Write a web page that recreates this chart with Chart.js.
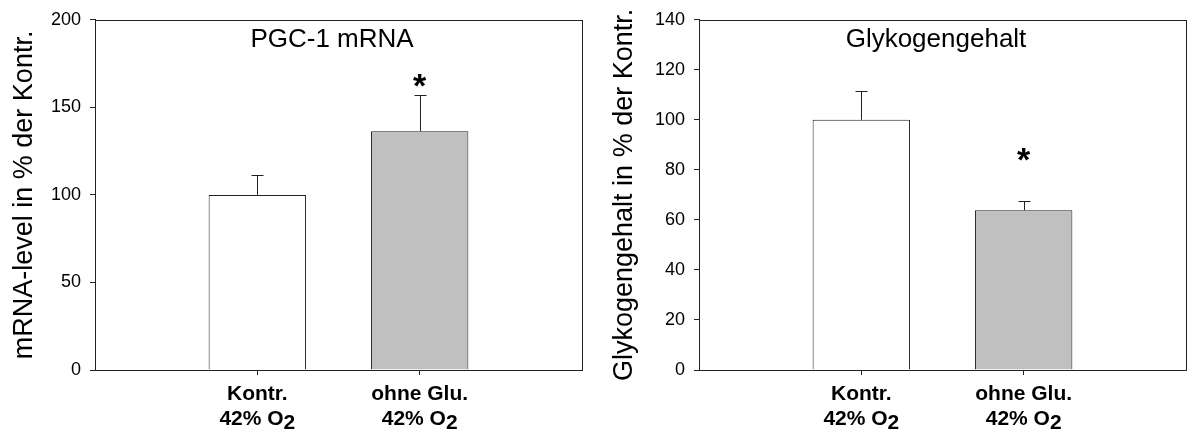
<!DOCTYPE html>
<html>
<head>
<meta charset="utf-8">
<script src="https://cdn.jsdelivr.net/npm/chart.js@4"></script>
<style>
  body { margin: 0; background: #fff; }
  #left { position: absolute; left: 0; top: 0; }
  #right { position: absolute; left: 600px; top: 0; }
</style>
</head>
<body>
<canvas id="left" width="600" height="430"></canvas>
<canvas id="right" width="587" height="430"></canvas>
<script>
// Gruppen
const categories = ["Kontr.", "ohne Glu."];
const o2Text = "42% O";
const o2Sub = "2";

// PGC-1 mRNA (in % der Kontrolle)
const pgcValues = [100, 136.4];
const pgcErrors = [11.1, 20.4];
const pgcStars = [null, 167];
const pgcTicks = [0, 50, 100, 150, 200];

// Glykogengehalt (in % der Kontrolle)
const glyValues = [100, 63.9];
const glyErrors = [11.4, 3.7];
const glyStars = [null, 87];
const glyTicks = [0, 20, 40, 60, 80, 100, 120, 140];

const FONT = "'Liberation Sans', Arial, sans-serif";
const LINE = "#222222";

// Fehlerbalken, Sternchen, Rahmen, Titel und x-Beschriftung
const extrasPlugin = {
  id: "extras",
  afterDatasetsDraw(chart, args, opts) {
    const ctx = chart.ctx;
    const xs = chart.scales.x;
    const ys = chart.scales.y;
    const meta = chart.getDatasetMeta(0);
    const area = chart.chartArea;

    ctx.save();
    ctx.strokeStyle = LINE;
    ctx.lineWidth = 1;
    opts.values.forEach((v, i) => {
      const x = Math.round(meta.data[i].x) + 0.5;
      const y0 = ys.getPixelForValue(v);
      const y1 = Math.round(ys.getPixelForValue(v + opts.errors[i])) + 0.5;
      ctx.beginPath();
      ctx.moveTo(x, y0);
      ctx.lineTo(x, y1);
      ctx.moveTo(x - 6, y1);
      ctx.lineTo(x + 6, y1);
      ctx.stroke();
    });

    // Rahmen um die Zeichenfläche
    ctx.strokeRect(Math.round(area.left) + 0.5, Math.round(area.top) + 0.5,
      Math.round(area.right - area.left), Math.round(area.bottom - area.top));

    // Sternchen
    ctx.fillStyle = "#000";
    ctx.font = "bold 34px " + FONT;
    ctx.textAlign = "center";
    ctx.textBaseline = "alphabetic";
    opts.stars.forEach((s, i) => {
      if (s === null) return;
      ctx.fillText("*", xs.getPixelForValue(i + 1), ys.getPixelForValue(s) + 19);
    });

    // Titel in der Zeichenfläche
    ctx.font = "26px " + FONT;
    ctx.fillText(opts.title, area.left + 237, area.top + 27.5);

    // Kategorien unter der x-Achse
    ctx.font = "bold 21px " + FONT;
    categories.forEach((c, i) => {
      const x = xs.getPixelForValue(i + 1);
      ctx.textAlign = "center";
      ctx.fillText(c, x, area.bottom + 30);
      const w1 = ctx.measureText(o2Text).width;
      const w2 = ctx.measureText(o2Sub).width;
      const start = x - (w1 + w2) / 2;
      ctx.textAlign = "left";
      ctx.fillText(o2Text, start, area.bottom + 55);
      ctx.fillText(o2Sub, start + w1, area.bottom + 59);
    });
    ctx.restore();
  },
};

function makeChart(id, values, errors, stars, ticks, yTitle, title, axisWidth, padRight) {
  return new Chart(document.getElementById(id), {
    type: "bar",
    data: {
      datasets: [
        {
          data: values.map((v, i) => ({ x: i + 1, y: v })),
          backgroundColor: ["#ffffff", "#c0c0c0"],
          borderColor: LINE,
          borderWidth: 1,
          barPercentage: 0.6,
          categoryPercentage: 1,
        },
      ],
    },
    options: {
      responsive: false,
      animation: false,
      layout: { padding: { top: 19, right: padRight, left: 0, bottom: 0 } },
      plugins: {
        legend: { display: false },
        tooltip: { enabled: false },
        extras: { values: values, errors: errors, stars: stars, title: title },
      },
      scales: {
        x: {
          type: "linear",
          min: 0,
          max: 3,
          offset: false,
          afterBuildTicks: (scale) => {
            scale.ticks = [{ value: 1 }, { value: 2 }];
          },
          afterFit: (scale) => {
            scale.height = 60;
          },
          ticks: { callback: () => "" },
          grid: {
            offset: false,
            drawOnChartArea: false,
            drawTicks: true,
            tickLength: 5,
            color: LINE,
          },
          border: { color: LINE },
        },
        y: {
          min: ticks[0],
          max: ticks[ticks.length - 1],
          afterBuildTicks: (scale) => {
            scale.ticks = ticks.map((t) => ({ value: t }));
          },
          afterFit: (scale) => {
            scale.width = axisWidth;
          },
          ticks: {
            color: "#000",
            font: { family: FONT, size: 18 },
            padding: 9,
          },
          grid: {
            drawOnChartArea: false,
            drawTicks: true,
            tickLength: 5,
            color: LINE,
          },
          border: { color: LINE },
          title: {
            display: true,
            text: yTitle,
            color: "#000",
            font: { family: FONT, size: 27 },
            padding: { top: 8, bottom: 0 },
          },
        },
      },
    },
    plugins: [extrasPlugin],
  });
}

makeChart("left", pgcValues, pgcErrors, pgcStars, pgcTicks,
  "mRNA-level in % der Kontr.", "PGC-1 mRNA", 95, 18);
makeChart("right", glyValues, glyErrors, glyStars, glyTicks,
  "Glykogengehalt in % der Kontr.", "Glykogengehalt", 99, 1);
</script>
</body>
</html>
